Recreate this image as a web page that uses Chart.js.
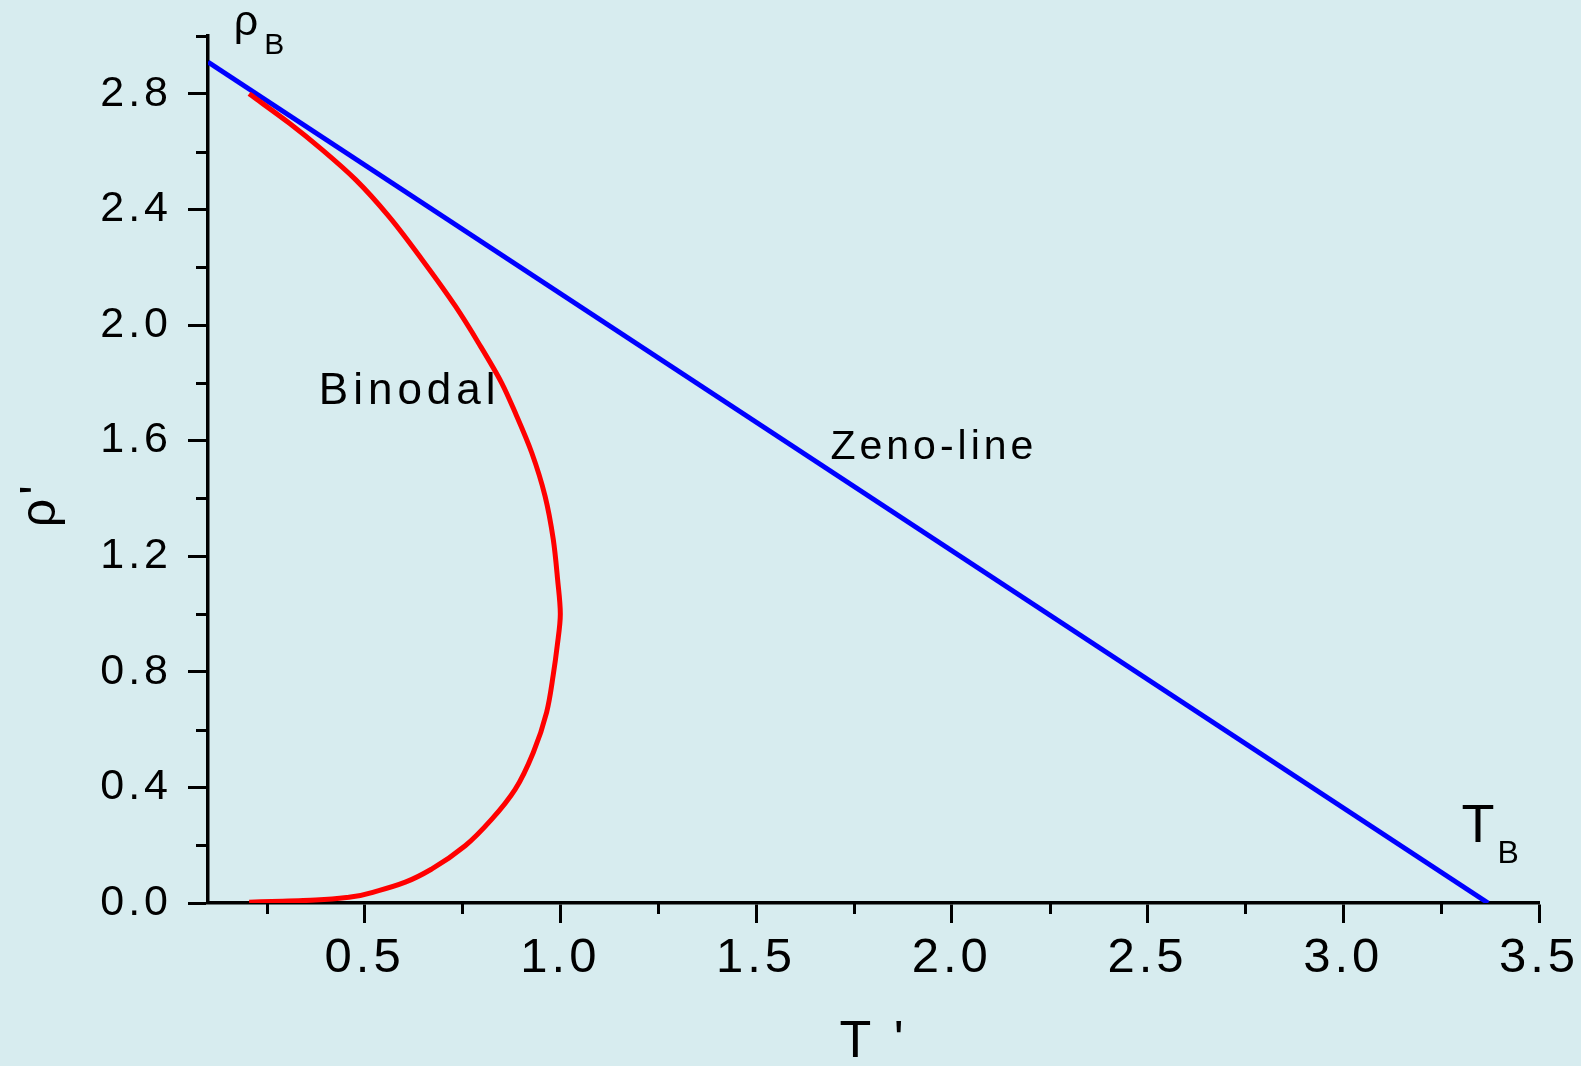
<!DOCTYPE html>
<html>
<head>
<meta charset="utf-8">
<title>Binodal and Zeno-line</title>
<script src="https://cdn.jsdelivr.net/npm/chart.js@4.4.1/dist/chart.umd.min.js"></script>
<style>
  html, body { margin: 0; padding: 0; background: #d7ecef; }
  canvas { display: block; }
</style>
</head>
<body>
<canvas id="chart" width="1581" height="1066"></canvas>
<script>
// Binodal (red), liquid branch at the top down to the gas branch at the bottom
const binodalT = [0.205, 0.308, 0.392, 0.477, 0.562, 0.647, 0.732, 0.791, 0.85, 0.885, 0.927, 0.961, 0.982, 0.993, 1.0,
                  0.992, 0.982, 0.965, 0.931, 0.885, 0.825, 0.757, 0.672, 0.604, 0.536, 0.46, 0.375, 0.29, 0.205];
const binodalRho = [2.80, 2.698, 2.606, 2.503, 2.376, 2.226, 2.065, 1.938, 1.80, 1.696, 1.558, 1.408, 1.258, 1.12, 1.0,
                    0.889, 0.79, 0.66, 0.521, 0.394, 0.29, 0.198, 0.118, 0.072, 0.043, 0.020, 0.010, 0.006, 0.003];

// Zeno-line (blue), from rho_B on the axis down to T_B
const zenoT = [0.1, 3.37];
const zenoRho = [2.91, 0.0];

// tick labels (majors); the other ticks are unlabelled minors
const xTickLabels = ['0.5', '1.0', '1.5', '2.0', '2.5', '3.0', '3.5'];
const yTickLabels = ['0.0', '0.4', '0.8', '1.2', '1.6', '2.0', '2.4', '2.8'];

const FONT = "'Liberation Sans', Arial, sans-serif";

function xLabel(v) { const s = v.toFixed(1); return xTickLabels.includes(s) && Math.abs(v * 2 - Math.round(v * 2)) < 1e-6 ? s : ''; }
function yLabel(v) { const s = v.toFixed(1); return yTickLabels.includes(s) && Math.abs(v / 0.4 - Math.round(v / 0.4)) < 1e-6 ? s : ''; }

const toPoints = (xs, ys) => xs.map((x, i) => ({ x: x, y: ys[i] }));

// short unlabelled ticks
const minorTicks = {
  id: 'minorTicks',
  afterDraw(chart) {
    const { ctx, chartArea, scales: { x, y } } = chart;
    ctx.save();
    ctx.strokeStyle = '#000';
    ctx.lineWidth = 3;
    ctx.beginPath();
    x.ticks.forEach(t => {
      if (xLabel(t.value)) return;
      const px = Math.round(x.getPixelForValue(t.value)) + 0.5;
      ctx.moveTo(px, chartArea.bottom);
      ctx.lineTo(px, chartArea.bottom + 11);
    });
    y.ticks.forEach(t => {
      if (yLabel(t.value)) return;
      const py = Math.round(y.getPixelForValue(t.value)) + 0.5;
      ctx.moveTo(chartArea.left, py);
      ctx.lineTo(chartArea.left - 12, py);
    });
    ctx.stroke();
    ctx.restore();
  }
};

// Origin-style wide text
const spacing = {
  id: 'spacing',
  beforeDraw(chart) { chart.ctx.letterSpacing = '4px'; }
};

// text placed in data coordinates
const notes = [
  { text: 'ρ', t: 0.166, rho: 3.005, size: 43, gap: 0 },
  { text: 'B', t: 0.244, rho: 2.936, size: 30, gap: 0 },
  { text: 'T', t: 3.302, rho: 0.210, size: 54, gap: 0 },
  { text: 'B', t: 3.394, rho: 0.139, size: 32, gap: 0 },
  { text: 'Binodal', t: 0.383, rho: 1.725, size: 44, gap: 5 },
  { text: 'Zeno-line', t: 1.69, rho: 1.535, size: 41, gap: 4 }
];

const labels = {
  id: 'labels',
  afterDraw(chart) {
    const { ctx, scales: { x, y } } = chart;
    ctx.save();
    ctx.fillStyle = '#000';
    ctx.textBaseline = 'alphabetic';
    ctx.textAlign = 'left';
    notes.forEach(n => {
      ctx.font = n.size + 'px ' + FONT;
      ctx.letterSpacing = n.gap + 'px';
      ctx.fillText(n.text, x.getPixelForValue(n.t), y.getPixelForValue(n.rho));
    });
    // y axis title, rotated
    ctx.font = '50px ' + FONT;
    ctx.letterSpacing = '4px';
    ctx.translate(54.5, y.getPixelForValue(1.30));
    ctx.rotate(-Math.PI / 2);
    ctx.fillText("ρ'", 0, 0);
    ctx.restore();
  }
};

new Chart(document.getElementById('chart'), {
  type: 'line',
  data: {
    datasets: [
      {
        label: 'Binodal',
        data: toPoints(binodalT, binodalRho),
        // rho falls steadily along the curve, so smooth T as a function of rho
        indexAxis: 'y',
        cubicInterpolationMode: 'monotone',
        borderColor: '#ff0000',
        borderWidth: 5,
        pointRadius: 0,
        fill: false
      },
      {
        label: 'Zeno-line',
        data: toPoints(zenoT, zenoRho),
        borderColor: '#0000ff',
        borderWidth: 5,
        pointRadius: 0,
        fill: false
      }
    ]
  },
  options: {
    responsive: false,
    animation: false,
    events: [],
    layout: { padding: { top: 36, right: 42, left: 0, bottom: 0 } },
    plugins: { legend: { display: false }, tooltip: { enabled: false } },
    scales: {
      x: {
        type: 'linear',
        min: 0.1,
        max: 3.5,
        afterFit: (scale) => { scale.height = 163; },
        ticks: {
          stepSize: 0.25,
          includeBounds: false,
          autoSkip: false,
          maxRotation: 0,
          padding: 6,
          color: '#000',
          font: { family: FONT, size: 49 },
          callback: (v) => xLabel(v)
        },
        grid: {
          drawOnChartArea: false,
          drawTicks: true,
          tickLength: 20,
          tickWidth: 3,
          tickColor: (c) => (c.tick && xLabel(c.tick.value)) ? '#000' : 'rgba(0,0,0,0)'
        },
        border: { display: true, color: '#000', width: 3.5 },
        title: {
          display: true,
          text: "T '",
          color: '#000',
          font: { family: FONT, size: 52, lineHeight: 0.8 },
          padding: { top: 0, bottom: 3 }
        }
      },
      y: {
        type: 'linear',
        min: 0,
        max: 3.0,
        afterFit: (scale) => { scale.width = 208; },
        ticks: {
          stepSize: 0.2,
          autoSkip: false,
          padding: 16,
          color: '#000',
          font: { family: FONT, size: 43, lineHeight: 0.8 },
          callback: (v) => yLabel(v)
        },
        grid: {
          drawOnChartArea: false,
          drawTicks: true,
          tickLength: 20,
          tickWidth: 3,
          tickColor: (c) => (c.tick && yLabel(c.tick.value)) ? '#000' : 'rgba(0,0,0,0)'
        },
        border: { display: true, color: '#000', width: 3.5 }
      }
    }
  },
  plugins: [spacing, minorTicks, labels]
});
</script>
</body>
</html>
